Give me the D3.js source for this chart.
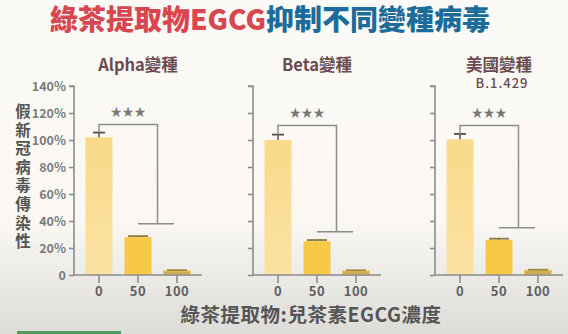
<!DOCTYPE html>
<html>
<head>
<meta charset="utf-8">
<script src="https://cdn.jsdelivr.net/npm/d3@7"></script>
<style>
  html, body { margin: 0; padding: 0; }
  body { width: 568px; height: 334px; overflow: hidden; }
  svg { display: block; font-family: "Noto Sans CJK TC", "Noto Sans", sans-serif; }
</style>
</head>
<body>
<svg id="chart" width="568" height="334"></svg>
<script>
// EGCG doses (x categories)
const doses = ["0", "50", "100"];
// Variant panels
const variants = ["Alpha變種", "Beta變種", "美國變種"];
const variantSubtitles = ["", "", "B.1.429"];
// Relative pseudovirus infectivity (%) per dose, one array per variant
const alphaValues = [102, 28, 3];
const betaValues = [100, 25, 3];
const usValues = [100.5, 26, 3.5];
// Error bar half-lengths (%)
const alphaErrors = [3.5, 0.8, 0.6];
const betaErrors = [4, 0.9, 0.5];
const usErrors = [4, 0.9, 0.4];
// Significance bracket: top level and lower level (%)
const bracketTop = [111.5, 110.8, 110.8];
const bracketLow = [38, 32, 35];
const significance = ["★★★", "★★★", "★★★"];
// Y-axis ticks
const yTicks = [0, 20, 40, 60, 80, 100, 120, 140];
const yTickLabels = ["0", "20%", "40%", "60%", "80%", "100%", "120%", "140%"];

const seriesValues = [alphaValues, betaValues, usValues];
const seriesErrors = [alphaErrors, betaErrors, usErrors];

const W = 568, H = 334;
const svg = d3.select("#chart");

// background: warm off-white fading to grey at the bottom
const defs = svg.append("defs");
const bg = defs.append("linearGradient").attr("id", "bg")
  .attr("x1", 0).attr("y1", 0).attr("x2", 0).attr("y2", 1);
bg.append("stop").attr("offset", "0%").attr("stop-color", "#fcfaf6");
bg.append("stop").attr("offset", "66%").attr("stop-color", "#fbf8f4");
bg.append("stop").attr("offset", "82%").attr("stop-color", "#ecebe8");
bg.append("stop").attr("offset", "100%").attr("stop-color", "#dddcd9");
svg.append("rect").attr("width", W).attr("height", H).attr("fill", "url(#bg)");

// light-to-dark fill for the 0-dose bar
const g0 = defs.append("linearGradient").attr("id", "bar0")
  .attr("x1", 0).attr("y1", 0).attr("x2", 0).attr("y2", 1);
g0.append("stop").attr("offset", "0%").attr("stop-color", "#f9da8a");
g0.append("stop").attr("offset", "100%").attr("stop-color", "#fbe2a2");

const barFill = ["url(#bar0)", "#f7c944", "#cfad55"];
const barStroke = ["none", "none", "#f1cd5c"];
const capColor = ["#555048", "#8c7a3c", "#a08a40"];

// main title in two colours
const title = svg.append("text")
  .attr("x", 270).attr("y", 30)
  .attr("text-anchor", "middle")
  .attr("font-size", 28).attr("font-weight", 900);
title.append("tspan").attr("fill", "#d8474f").text("綠茶提取物EGCG");
title.append("tspan").attr("fill", "#1b6c9c").text("抑制不同變種病毒");

// shared y scale
const y = d3.scaleLinear().domain([0, 140]).range([275, 86]);

const panelX = [74, 253, 435];
const axisColor = "#8d8d8d";

panelX.forEach((x0, p) => {
  const g = svg.append("g");
  const x = d3.scaleBand().domain(doses)
    .range([x0, x0 + 128]).paddingInner(0.3077).paddingOuter(0.295);
  const cx = d => x(d) + x.bandwidth() / 2;
  const vals = seriesValues[p], errs = seriesErrors[p];

  // panel title
  const tx = x0 + 64;
  g.append("text").attr("x", tx).attr("y", 71)
    .attr("text-anchor", "middle").attr("font-size", 16.5).attr("font-weight", 700)
    .attr("fill", "#6a4b50").text(variants[p]);
  if (variantSubtitles[p]) {
    g.append("text").attr("x", tx + 3).attr("y", 88)
      .attr("text-anchor", "middle").attr("font-size", 13).attr("font-weight", 500)
      .attr("letter-spacing", 1)
      .attr("fill", "#6a4b50").text(variantSubtitles[p]);
  }

  // bars
  g.selectAll("rect.bar").data(doses).join("rect").attr("class", "bar")
    .attr("x", d => x(d)).attr("width", x.bandwidth())
    .attr("y", (d, i) => y(vals[i])).attr("height", (d, i) => y(0) - y(vals[i]))
    .attr("fill", (d, i) => barFill[i])
    .attr("stroke", (d, i) => barStroke[i]).attr("stroke-width", 1);

  // error bars
  doses.forEach((d, i) => {
    const c = cx(d), top = y(vals[i] + errs[i]);
    const half = i === 0 ? 6 : 10;
    g.append("line").attr("x1", c).attr("x2", c)
      .attr("y1", y(vals[i])).attr("y2", top)
      .attr("stroke", capColor[i]).attr("stroke-width", 1.5);
    g.append("line").attr("x1", c - half).attr("x2", c + half)
      .attr("y1", top).attr("y2", top)
      .attr("stroke", capColor[i]).attr("stroke-width", 1.8);
  });

  // y axis
  const yAxis = d3.axisLeft(y).tickValues(yTicks).tickSize(5)
    .tickFormat((d, i) => p === 0 ? yTickLabels[i] : "");
  const ya = g.append("g").attr("transform", `translate(${x0},0)`).call(yAxis);
  ya.select(".domain").attr("stroke", axisColor).attr("stroke-width", 1.6)
    .attr("d", `M-5,${y(140)}H0V${y(0)}`);
  ya.selectAll(".tick line").attr("stroke", axisColor).attr("stroke-width", 1.6);
  ya.selectAll(".tick text").attr("fill", "#7a7a7a").attr("font-size", 12.5)
    .attr("font-weight", 700).attr("x", -8)
    .attr("font-family", "'Noto Sans CJK TC', sans-serif");

  // x axis
  const xAxis = d3.axisBottom(x).tickSize(8).tickPadding(4);
  const xa = g.append("g").attr("transform", `translate(0,${y(0)})`).call(xAxis);
  xa.select(".domain").attr("stroke", axisColor).attr("stroke-width", 1.6)
    .attr("d", `M${x0},0H${x0 + 128}`);
  xa.selectAll(".tick line").attr("stroke", axisColor).attr("stroke-width", 1.6);
  xa.selectAll(".tick text").attr("fill", "#5e5e5e").attr("font-size", 13)
    .attr("font-weight", 700).attr("letter-spacing", 0.5)
    .attr("font-family", "'Noto Sans CJK TC', sans-serif");

  // significance bracket: dose 0 vs the 50/100 pair
  const xl = cx(doses[0]);
  const xa50 = cx(doses[1]), xa100 = cx(doses[2]);
  const xr = (xa50 + xa100) / 2;
  const yt = y(bracketTop[p]), yl = y(bracketLow[p]);
  const yErr0 = y(vals[0] + errs[0]);
  g.append("path")
    .attr("d", `M${xl},${yErr0}V${yt}H${xr}V${yl}`)
    .attr("fill", "none").attr("stroke", axisColor).attr("stroke-width", 1.5);
  g.append("line").attr("x1", xa50).attr("x2", xa100 - 3)
    .attr("y1", yl).attr("y2", yl)
    .attr("stroke", axisColor).attr("stroke-width", 1.5);
  g.append("text").attr("x", (xl + xr) / 2).attr("y", yt - 8)
    .attr("text-anchor", "middle").attr("font-size", 11.5)
    .attr("fill", "#777").attr("letter-spacing", 0.3)
    .text(significance[p]);
});

// vertical y-axis title
const yTitle = "假新冠病毒傳染性";
svg.append("g").selectAll("text").data(Array.from(yTitle)).join("text")
  .attr("x", 23).attr("y", (d, i) => 117 + i * 18.6)
  .attr("text-anchor", "middle").attr("font-size", 15.5).attr("font-weight", 700)
  .attr("fill", "#545454").text(d => d);

// x-axis title
svg.append("text").attr("x", 311).attr("y", 322)
  .attr("text-anchor", "middle").attr("font-size", 19.5).attr("font-weight", 700)
  .attr("fill", "#555").attr("letter-spacing", 0.5)
  .text("綠茶提取物:兒茶素EGCG濃度");

// green strip at the bottom-left edge
svg.append("rect").attr("x", 17).attr("y", 331).attr("width", 104).attr("height", 3)
  .attr("fill", "#4f9a5c");
</script>
</body>
</html>
